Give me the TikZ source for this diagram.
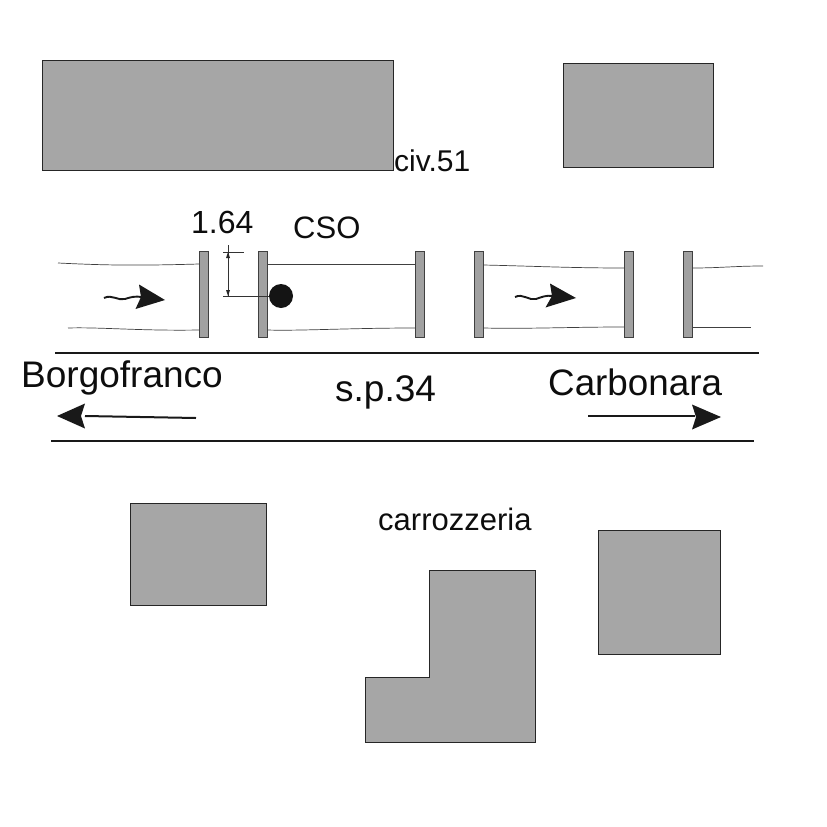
\documentclass[tikz,border=0pt]{standalone}
\usepackage{fontspec}
\setmainfont{Liberation Sans}
\tikzset{
  building/.style={draw=black!85,line width=0.7pt,fill=black!35},
  gate/.style={draw=black!75,line width=0.9pt,fill=black!37},
  bank/.style={draw=black!75,line width=0.7pt},
  road/.style={draw=black!90,line width=1.5pt},
  label/.style={anchor=base west,inner sep=0pt,text=black!95},
  head/.style={fill=black!90,draw=none}
}
\newcommand{\gatebar}[1]{\draw[gate] (#1,251.5) rectangle ++(9,86);}
\begin{document}
\begin{tikzpicture}[x=1pt,y=-1pt]
  \useasboundingbox (0,0) rectangle (827,827);
  % buildings
  \draw[building] (42.5,60.5) rectangle (393,170);
  \draw[building] (563.5,63.5) rectangle (713.5,167.5);
  \draw[building] (130.5,503) rectangle (266.5,605.5);
  \draw[building] (598.5,530.5) rectangle (720.5,654.5);
  \draw[building] (429,570.5) -- (535,570.5) -- (535,742.5) -- (365.5,742.5) -- (365.5,677) -- (429,677) -- cycle;
  % channel banks
  \draw[bank] (58,263) .. controls (100,265) and (130,266) .. (199,264);
  \draw[bank] (68,328) .. controls (100,327) and (140,331) .. (199,330);
  \draw[bank] (267,264) -- (415,264);
  \draw[bank] (267,330) .. controls (300,331) and (350,328) .. (415,328);
  \draw[bank] (483,265) .. controls (530,266) and (570,268) .. (624,268);
  \draw[bank] (483,328) .. controls (530,329) and (570,327) .. (624,327);
  \draw[bank] (692,268) .. controls (720,268) and (735,266) .. (763,266);
  \draw[bank] (692,327) -- (751,327);
  % gates
  \foreach \gatex in {199,258,415,474,624,683}
    \gatebar{\gatex}
  % measure
  \draw[black!80,line width=0.5pt] (223,252) -- (244,252);
  \draw[black!80,line width=0.5pt] (223,296) -- (269,296);
  \draw[black!80,line width=0.5pt] (228,245) -- (228,296);
  \fill[black!85] (228,252) -- (226,258) -- (230,258) -- cycle;
  \fill[black!85] (228,296) -- (226,290) -- (230,290) -- cycle;
  \node[circle,fill=black!92,minimum size=24pt,inner sep=0pt] (cso) at (281,296) {};
  % flow arrows
  \draw[black!90,line width=1.9pt] (104,298) .. controls (112,294) and (118,301) .. (125,299) .. controls (131,297) and (135,296) .. (142,297);
  \fill[head] (139,284.5) -- (165,300) -- (135.5,309) -- (141,297) -- cycle;
  \draw[black!90,line width=1.9pt] (515,297) .. controls (523,293) and (529,301) .. (536,299) .. controls (542,297) and (546,295) .. (553,296);
  \fill[head] (550,283.5) -- (576,298) -- (545.5,307.5) -- (552,296) -- cycle;
  % road
  \draw[road] (55,353) -- (759,353);
  \draw[road] (51,441) -- (754,441);
  \coordinate (borgoend) at (196,418);
  \coordinate (borgotip) at (85,416);
  \draw[black!90,line width=2pt] (borgoend) -- (borgotip);
  \fill[head] (57,416) -- (85,403.5) -- (81,416) -- (85,428.5) -- cycle;
  \coordinate (carbstart) at (588,416);
  \coordinate (carbtip) at (695,416);
  \draw[black!90,line width=2pt] (carbstart) -- (carbtip);
  \fill[head] (721,417) -- (692,404.5) -- (696,417) -- (692,429.5) -- cycle;
  % labels
  \node[label,font=\fontsize{30}{30}\selectfont] (civ) at (394,171) {civ.51};
  \node[label,font=\fontsize{32}{32}\selectfont] (quota) at (191,233) {1.64};
  \node[label,font=\fontsize{31}{31}\selectfont] (csolabel) at (293,238) {CSO};
  \node[label,font=\fontsize{37}{37}\selectfont] (borgo) at (21,387) {Borgofranco};
  \node[label,font=\fontsize{37}{37}\selectfont] (sp) at (335,401) {s.p.34};
  \node[label,font=\fontsize{36.8}{36.8}\selectfont] (carb) at (548,395) {Carbonara};
  \node[label,font=\fontsize{31}{31}\selectfont] (carr) at (378,530) {carrozzeria};
\end{tikzpicture}
\end{document}
